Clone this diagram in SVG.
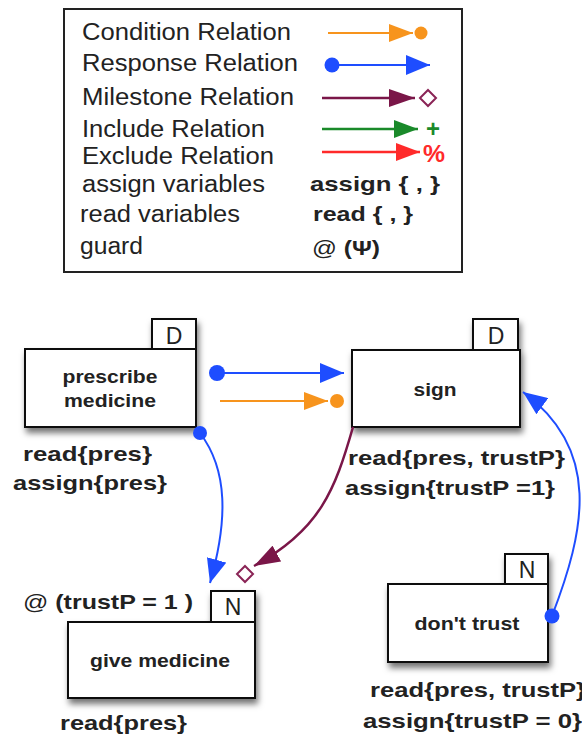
<svg xmlns="http://www.w3.org/2000/svg" width="582" height="740" viewBox="0 0 582 740">
<style>
.lg{font-family:"Liberation Sans",Arial,sans-serif;font-size:23px;fill:#222}
.bd{font-family:"Liberation Sans",Arial,sans-serif;font-size:21px;font-weight:bold;fill:#222}
.nl{font-family:"Liberation Sans",Arial,sans-serif;font-size:18px;font-weight:bold;fill:#222;text-anchor:middle}
.tb{font-family:"Liberation Sans",Arial,sans-serif;font-size:23px;fill:#222;text-anchor:middle}
.box{fill:#fff;stroke:#111;stroke-width:2}
.bl{stroke:#1e4dff;stroke-width:2;fill:none}
.or{stroke:#f7941d;stroke-width:2;fill:none}
.pu{stroke:#7a1648;stroke-width:2.5;fill:none}
.gr{stroke:#1a8a2a;stroke-width:2.5;fill:none}
.rd{stroke:#ff2a2a;stroke-width:2.5;fill:none}
</style>
<defs>
<filter id="sh" x="-20%" y="-20%" width="150%" height="160%">
<feDropShadow dx="2" dy="5" stdDeviation="3" flood-color="#000" flood-opacity="0.55"/>
</filter>
<marker id="ab" viewBox="0 0 24 20" refX="24" refY="10" markerWidth="24" markerHeight="20" orient="auto" markerUnits="userSpaceOnUse"><path d="M0,0 L24,10 L0,20 z" fill="#1e4dff"/></marker>
<marker id="ao" viewBox="0 0 24 18" refX="24" refY="9" markerWidth="24" markerHeight="18" orient="auto" markerUnits="userSpaceOnUse"><path d="M0,0 L24,9 L0,18 z" fill="#f7941d"/></marker>
<marker id="ap" viewBox="0 0 26 18" refX="26" refY="9" markerWidth="26" markerHeight="18" orient="auto" markerUnits="userSpaceOnUse"><path d="M0,0 L26,9 L0,18 z" fill="#7a1648"/></marker>
<marker id="ag" viewBox="0 0 24 18" refX="24" refY="9" markerWidth="24" markerHeight="18" orient="auto" markerUnits="userSpaceOnUse"><path d="M0,0 L24,9 L0,18 z" fill="#1a8a2a"/></marker>
<marker id="ar" viewBox="0 0 24 18" refX="24" refY="9" markerWidth="24" markerHeight="18" orient="auto" markerUnits="userSpaceOnUse"><path d="M0,0 L24,9 L0,18 z" fill="#ff2a2a"/></marker>
</defs>
<rect width="582" height="740" fill="#fff"/>

<g id="legend">
<rect x="64" y="9" width="398" height="263" fill="#fff" stroke="#222" stroke-width="2"/>
<text class="lg" x="82" y="40" textLength="209" lengthAdjust="spacingAndGlyphs">Condition Relation</text>
<text class="lg" x="82" y="71" textLength="216" lengthAdjust="spacingAndGlyphs">Response Relation</text>
<text class="lg" x="82" y="105" textLength="212" lengthAdjust="spacingAndGlyphs">Milestone Relation</text>
<text class="lg" x="82" y="137" textLength="183" lengthAdjust="spacingAndGlyphs">Include Relation</text>
<text class="lg" x="82" y="164" textLength="192" lengthAdjust="spacingAndGlyphs">Exclude Relation</text>
<text class="lg" x="82" y="192" textLength="183" lengthAdjust="spacingAndGlyphs">assign variables</text>
<text class="lg" x="80" y="222" textLength="160" lengthAdjust="spacingAndGlyphs">read variables</text>
<text class="lg" x="80" y="254" textLength="63" lengthAdjust="spacingAndGlyphs">guard</text>
<line class="or" x1="328" y1="33" x2="413" y2="33" marker-end="url(#ao)"/>
<circle cx="421" cy="33" r="6.5" fill="#f7941d"/>
<circle cx="332" cy="65" r="7.5" fill="#1e4dff"/>
<line class="bl" x1="332" y1="65" x2="430" y2="65" marker-end="url(#ab)"/>
<line class="pu" x1="322" y1="98" x2="415" y2="98" marker-end="url(#ap)"/>
<polygon points="428,90 436,98 428,106 420,98" fill="#fff" stroke="#8a2456" stroke-width="2"/>
<line class="gr" x1="322" y1="129" x2="418" y2="129" marker-end="url(#ag)"/>
<text x="433" y="137" font-family="Liberation Sans, Arial, sans-serif" font-size="24" font-weight="bold" fill="#1a8a2a" text-anchor="middle">+</text>
<line class="rd" x1="322" y1="152" x2="420" y2="152" marker-end="url(#ar)"/>
<text x="423" y="162" font-family="Liberation Sans, Arial, sans-serif" font-size="23" font-weight="bold" fill="#ff2a2a" textLength="22" lengthAdjust="spacingAndGlyphs">%</text>
<text class="bd" x="310" y="191" textLength="130" lengthAdjust="spacingAndGlyphs">assign { , }</text>
<text class="bd" x="313" y="221" textLength="100" lengthAdjust="spacingAndGlyphs">read { , }</text>
<text class="bd" x="312" y="255" textLength="68" lengthAdjust="spacingAndGlyphs"><tspan font-weight="normal">@</tspan> (Ψ)</text>
</g>

<g id="prescribe">
<g filter="url(#sh)">
<rect class="box" x="25" y="349" width="171" height="78"/>
<rect class="box" x="152" y="319" width="44" height="30"/>
</g>
<text class="tb" x="174" y="344">D</text>
<text class="nl" x="110" y="383" textLength="95" lengthAdjust="spacingAndGlyphs">prescribe</text>
<text class="nl" x="110" y="407" textLength="92" lengthAdjust="spacingAndGlyphs">medicine</text>
<text class="bd" x="23" y="461" textLength="129" lengthAdjust="spacingAndGlyphs">read{pres}</text>
<text class="bd" x="13" y="490" textLength="154" lengthAdjust="spacingAndGlyphs">assign{pres}</text>
</g>

<g id="sign">
<g filter="url(#sh)">
<rect class="box" x="352" y="350" width="168" height="77"/>
<rect class="box" x="473" y="319" width="45" height="31"/>
</g>
<text class="tb" x="496" y="344">D</text>
<text class="nl" x="435" y="396" textLength="43" lengthAdjust="spacingAndGlyphs">sign</text>
<text class="bd" x="348" y="465" textLength="217" lengthAdjust="spacingAndGlyphs">read{pres, trustP}</text>
<text class="bd" x="345" y="495" textLength="210" lengthAdjust="spacingAndGlyphs">assign{trustP =1}</text>
</g>

<g id="give">
<g filter="url(#sh)">
<rect class="box" x="68" y="622" width="187" height="76"/>
<rect class="box" x="211" y="591" width="44" height="31"/>
</g>
<text class="tb" x="233" y="615">N</text>
<text class="nl" x="160" y="667" textLength="140" lengthAdjust="spacingAndGlyphs">give medicine</text>
<text class="bd" x="23" y="609" textLength="170" lengthAdjust="spacingAndGlyphs"><tspan font-weight="normal">@</tspan> (trustP = 1 )</text>
<text class="bd" x="60" y="730" textLength="127" lengthAdjust="spacingAndGlyphs">read{pres}</text>
</g>

<g id="donttrust">
<g filter="url(#sh)">
<rect class="box" x="388" y="584" width="160" height="78"/>
<rect class="box" x="505" y="554" width="43" height="30"/>
</g>
<text class="tb" x="527" y="578">N</text>
<text class="nl" x="467" y="630" textLength="105" lengthAdjust="spacingAndGlyphs">don't trust</text>
<text class="bd" x="370" y="697" textLength="216" lengthAdjust="spacingAndGlyphs">read{pres, trustP}</text>
<text class="bd" x="363" y="728" textLength="219" lengthAdjust="spacingAndGlyphs">assign{trustP = 0}</text>
</g>

<g id="connectors">
<line class="bl" x1="217" y1="373" x2="344" y2="373" marker-end="url(#ab)"/>
<circle cx="217" cy="373" r="8" fill="#1e4dff"/>
<line class="or" x1="220" y1="401" x2="328" y2="401" marker-end="url(#ao)"/>
<circle cx="337" cy="401" r="7" fill="#f7941d"/>
<path class="bl" d="M200,433 C228,470 228,520 210,583" marker-end="url(#ab)"/>
<circle cx="200" cy="433" r="7" fill="#1e4dff"/>
<path class="pu" d="M353,427 C335,490 320,530 254,566" marker-end="url(#ap)"/>
<polygon points="245,566 253,574 245,582 237,574" fill="#fff" stroke="#8a2456" stroke-width="2"/>
<path class="bl" d="M552,616 C585,530 602,450 523,392" marker-end="url(#ab)"/>
<circle cx="552" cy="616" r="7.5" fill="#1e4dff"/>
</g>
</svg>
